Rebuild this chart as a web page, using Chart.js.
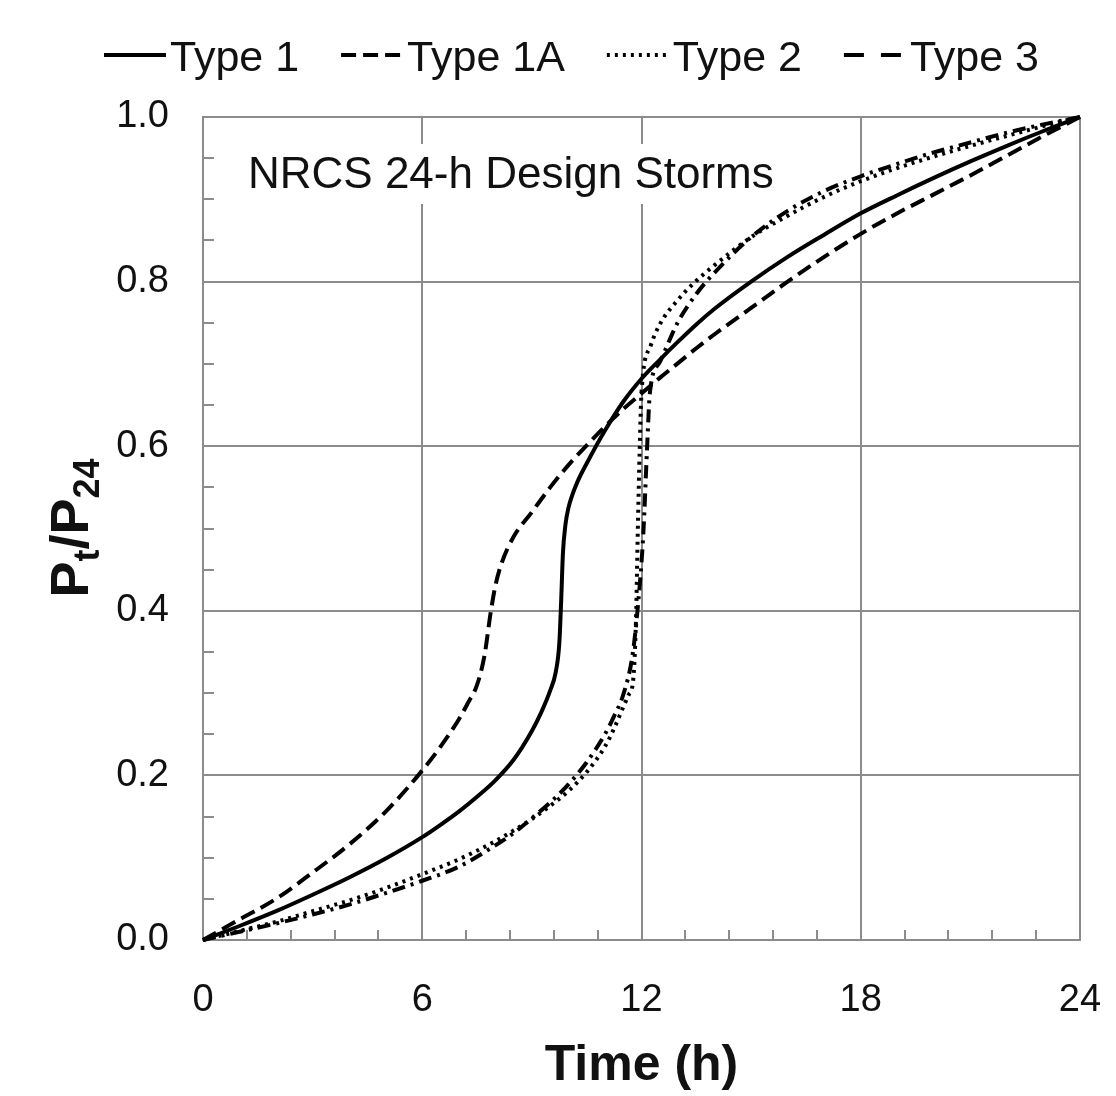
<!DOCTYPE html>
<html>
<head>
<meta charset="utf-8">
<script src="https://cdn.jsdelivr.net/npm/chart.js@4.4.1/dist/chart.umd.min.js"></script>
<style>
html,body{margin:0;padding:0;background:#fff;}
#wrap{width:1116px;height:1096px;position:relative;}
</style>
</head>
<body>
<div id="wrap"><canvas id="c" width="1116" height="1096"></canvas></div>
<script>
// ---- data ----
const seriesLabels = ['Type 1', 'Type 1A', 'Type 2', 'Type 3'];

const type1Time  = [0,1,2,3,4,5,6,6.5,7,7.5,8,8.5,9,9.25,9.5,9.65,9.75,9.8,9.85,9.92,10.0,10.1,10.25,10.5,11,11.5,12,12.5,13,13.5,14,15,16,17,18,19,20,21,22,23,24];
const type1Value = [0,0.017,0.035,0.055,0.076,0.099,0.125,0.140,0.156,0.174,0.194,0.219,0.254,0.276,0.303,0.325,0.360,0.410,0.470,0.505,0.525,0.540,0.557,0.579,0.619,0.654,0.682,0.705,0.727,0.748,0.767,0.800,0.830,0.857,0.883,0.905,0.926,0.946,0.965,0.983,1.0];

const type1ATime  = [0,1,2,3,4,5,6,6.5,7,7.25,7.5,7.7,7.88,8.0,8.15,8.5,9,9.5,10,10.5,11,11.5,12,12.5,13,13.5,14,15,16,17,18,19,20,21,22,23,24];
const type1AValue = [0,0.025,0.050,0.082,0.116,0.156,0.206,0.235,0.268,0.288,0.310,0.345,0.400,0.430,0.455,0.490,0.520,0.550,0.577,0.601,0.624,0.645,0.664,0.683,0.701,0.719,0.736,0.768,0.800,0.830,0.858,0.883,0.906,0.929,0.953,0.977,1.0];

const type2Time  = [0,1,2,3,4,5,6,7,8,8.5,9,9.5,10,10.5,11,11.25,11.5,11.65,11.77,11.85,11.9,11.95,12,12.25,12.5,13,13.5,14,15,16,17,18,19,20,21,22,23,24];
const type2Value = [0,0.011,0.022,0.035,0.048,0.063,0.080,0.098,0.120,0.133,0.147,0.163,0.181,0.204,0.235,0.257,0.283,0.298,0.315,0.390,0.500,0.595,0.665,0.722,0.748,0.778,0.801,0.820,0.854,0.880,0.903,0.922,0.938,0.952,0.965,0.977,0.989,1.0];

const type3Time  = [0,1,2,3,4,5,6,7,8,8.5,9,9.5,10,10.5,11,11.25,11.5,11.75,11.9,12.05,12.15,12.23,12.5,13,13.5,14,15,16,17,18,19,20,21,22,23,24];
const type3Value = [0,0.010,0.020,0.031,0.043,0.057,0.072,0.089,0.115,0.130,0.148,0.167,0.189,0.216,0.250,0.272,0.298,0.345,0.405,0.494,0.595,0.665,0.702,0.751,0.785,0.811,0.854,0.886,0.910,0.928,0.943,0.957,0.969,0.981,0.991,1.0];

const xTickValues = [0, 6, 12, 18, 24];
const yTickValues = [0, 0.2, 0.4, 0.6, 0.8, 1.0];
const chartTitle = 'NRCS 24-h Design Storms';
const xAxisTitle = 'Time (h)';
const yAxisTitleParts = [['P', false], ['t', true], ['/P', false], ['24', true]];

// ---- helpers ----
const pts = (t, v) => t.map((x, i) => ({ x: x, y: v[i] }));
const GRID = '#8c8c8c';
const FONT = '"Liberation Sans", Arial, sans-serif';

const decorPlugin = {
  id: 'decor',
  beforeDatasetsDraw(chart) {
    const { ctx, chartArea: a, scales: { x, y } } = chart;
    ctx.save();
    // minor ticks
    ctx.strokeStyle = GRID;
    ctx.lineWidth = 2;
    ctx.beginPath();
    for (let i = 1; i < 20; i++) {
      if (i % 5 === 0) continue;
      const px = Math.round(x.getPixelForValue(i * 1.2));
      ctx.moveTo(px, a.bottom);
      ctx.lineTo(px, a.bottom - 10);
    }
    for (let i = 1; i < 20; i++) {
      if (i % 4 === 0) continue;
      const py = Math.round(y.getPixelForValue(i * 0.05));
      ctx.moveTo(a.left, py);
      ctx.lineTo(a.left + 11, py);
    }
    ctx.stroke();
    // in-plot title with white box
    ctx.font = '44px ' + FONT;
    const w = ctx.measureText(chartTitle).width;
    const tx = a.left + 45, ty = a.top + 71;
    ctx.fillStyle = '#ffffff';
    ctx.fillRect(tx - 8, ty - 44, w + 16, 60);
    ctx.fillStyle = '#111';
    ctx.textBaseline = 'alphabetic';
    ctx.textAlign = 'left';
    ctx.fillText(chartTitle, tx, ty);
    ctx.restore();
  },
  afterDraw(chart) {
    const { ctx } = chart;
    ctx.save();
    // legend
    ctx.font = '43px ' + FONT;
    ctx.textBaseline = 'alphabetic';
    ctx.textAlign = 'left';
    let xPos = 104;
    const lineY = 55, baseY = 71;
    chart.data.datasets.forEach(ds => {
      ctx.beginPath();
      ctx.setLineDash(ds.legendDash || ds.borderDash || []);
      ctx.lineWidth = 4;
      ctx.strokeStyle = '#000';
      ctx.moveTo(xPos, lineY);
      ctx.lineTo(xPos + 62, lineY);
      ctx.stroke();
      ctx.setLineDash([]);
      ctx.fillStyle = '#111';
      ctx.fillText(ds.label, xPos + 66, baseY);
      xPos += 66 + ctx.measureText(ds.label).width + 42;
    });
    // y axis title with subscripts
    const bigF = 'bold 54px ' + FONT, smallF = 'bold 36px ' + FONT;
    let total = 0;
    yAxisTitleParts.forEach(([s, sub]) => { ctx.font = sub ? smallF : bigF; total += ctx.measureText(s).width; });
    ctx.translate(88, 528);
    ctx.rotate(-Math.PI / 2);
    let lx = -total / 2;
    ctx.fillStyle = '#111';
    yAxisTitleParts.forEach(([s, sub]) => {
      ctx.font = sub ? smallF : bigF;
      ctx.fillText(s, lx, sub ? 11 : 0);
      lx += ctx.measureText(s).width;
    });
    ctx.restore();
  }
};

new Chart(document.getElementById('c'), {
  type: 'line',
  data: {
    datasets: [
      { label: seriesLabels[0], data: pts(type1Time, type1Value), borderColor: '#000', borderWidth: 4, borderDash: [] },
      { label: seriesLabels[1], data: pts(type1ATime, type1AValue), borderColor: '#000', borderWidth: 4, borderDash: [15, 7] },
      { label: seriesLabels[2], data: pts(type2Time, type2Value), borderColor: '#000', borderWidth: 4, borderDash: [3, 5] },
      { label: seriesLabels[3], data: pts(type3Time, type3Value), borderColor: '#000', borderWidth: 4, borderDash: [13, 6, 3, 6], legendDash: [20, 17] }
    ]
  },
  options: {
    responsive: false,
    animation: false,
    devicePixelRatio: 1,
    layout: { padding: { top: 117, right: 36, bottom: 0, left: 0 } },
    elements: {
      point: { radius: 0, hoverRadius: 0 },
      line: { cubicInterpolationMode: 'monotone', fill: false, borderCapStyle: 'butt' }
    },
    datasets: { line: { clip: false } },
    plugins: { legend: { display: false }, tooltip: { enabled: false }, title: { display: false } },
    scales: {
      x: {
        type: 'linear', min: 0, max: 24,
        afterBuildTicks: s => { s.ticks = xTickValues.map(v => ({ value: v })); },
        afterFit: s => { s.height = 156; s.paddingLeft = 0; s.paddingRight = 0; },
        grid: { color: GRID, lineWidth: 2, drawTicks: false },
        border: { color: GRID, width: 2 },
        ticks: { color: '#111', font: { family: FONT, size: 38 }, padding: 38, maxRotation: 0, autoSkip: false },
        title: { display: true, text: xAxisTitle, color: '#111', font: { family: FONT, size: 50, weight: 'bold' }, padding: { top: 0, bottom: 0 } }
      },
      y: {
        type: 'linear', min: 0, max: 1,
        afterBuildTicks: s => { s.ticks = yTickValues.map(v => ({ value: v })); },
        afterFit: s => { s.width = 203; s.paddingTop = 0; s.paddingBottom = 0; },
        grid: { color: GRID, lineWidth: 2, drawTicks: false },
        border: { color: GRID, width: 2 },
        ticks: { color: '#111', font: { family: FONT, size: 38 }, padding: 34, callback: v => Number(v).toFixed(1) }
      }
    }
  },
  plugins: [decorPlugin]
});
</script>
</body>
</html>
